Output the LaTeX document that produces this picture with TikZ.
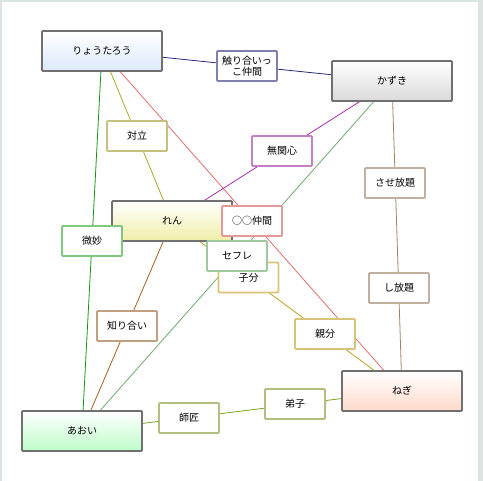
\documentclass[tikz,border=0pt]{standalone}
\usepackage{fontspec}
\setmainfont{Noto Sans CJK JP}
\usetikzlibrary{backgrounds}
\definecolor{frame}{HTML}{DCE4E2}
\definecolor{mainborder}{HTML}{707070}
% fills
\definecolor{fryo}{RGB}{221,233,252}
\definecolor{fkaz}{RGB}{218,218,218}
\definecolor{fren}{RGB}{238,238,168}
\definecolor{fneg}{RGB}{255,218,202}
\definecolor{faoi}{RGB}{190,252,200}
% label borders
\definecolor{bnavy}{RGB}{128,128,176}
\definecolor{bolive}{RGB}{196,192,128}
\definecolor{bpurple}{RGB}{196,128,196}
\definecolor{btan}{RGB}{192,176,160}
\definecolor{bgreen}{RGB}{128,200,128}
\definecolor{bgold}{RGB}{216,196,120}
\definecolor{bsage}{RGB}{160,200,160}
\definecolor{bpink}{RGB}{228,152,152}
\definecolor{bbrown}{RGB}{192,160,128}
\definecolor{bygreen}{RGB}{176,192,128}
% connectors
\definecolor{cnavy}{RGB}{40,40,120}
\definecolor{colive}{RGB}{170,170,40}
\definecolor{cgreen}{RGB}{20,150,20}
\definecolor{cpink}{RGB}{230,110,110}
\definecolor{cpurple}{RGB}{170,40,170}
\definecolor{csage}{RGB}{110,170,110}
\definecolor{ctan}{RGB}{160,130,100}
\definecolor{cbrown}{RGB}{170,100,40}
\definecolor{cgold}{RGB}{190,160,40}
\definecolor{cygreen}{RGB}{120,160,20}
\tikzset{
  x=1pt, y=-1pt,
  mainbox/.style={draw=mainborder, line width=1.8pt, rounded corners=1pt,
    minimum width=120pt, minimum height=40pt, inner sep=0pt,
    top color=white, font=\fontsize{10}{11}\selectfont},
  lbl/.style={draw=#1, line width=1.8pt, rounded corners=1pt, fill=white,
    minimum width=60pt, minimum height=30pt, inner sep=0pt, align=center,
    font=\fontsize{10}{10.5}\selectfont},
  conn/.style={draw=#1, line width=0.8pt},
}
\begin{document}
\begin{tikzpicture}
\useasboundingbox (0,0) rectangle (483,481);
% main nodes
\node[mainbox, bottom color=fryo] (ryo) at (102,51) {りょうたろう};
\node[mainbox, bottom color=fkaz] (kaz) at (392,81) {かずき};
\node[mainbox, bottom color=fren] (ren) at (172,221) {れん};
\node[mainbox, bottom color=fneg] (neg) at (402,391) {ねぎ};
\node[mainbox, bottom color=faoi] (aoi) at (82,431) {あおい};
% labels
\node[lbl=bnavy] (l1) at (247,66) {触り合いっ\\こ仲間};
\node[lbl=bolive] (l2) at (137,136) {対立};
\node[lbl=bpurple] (l3) at (282,151) {無関心};
\node[lbl=btan] (l4) at (395,183) {させ放題};
\node[lbl=bgreen] (l6) at (92,241) {微妙};
\node[lbl=bgold] (l8) at (248.5,277.5) {子分};
\node[lbl=bsage] (l7) at (237,256) {セフレ};
\node[lbl=bpink] (l5) at (252,221) {○○仲間};
\node[lbl=btan] (l9) at (399,288) {し放題};
\node[lbl=bbrown] (l10) at (127,326) {知り合い};
\node[lbl=bgold] (l11) at (325,334) {親分};
\node[lbl=bygreen] (l12) at (189,418) {師匠};
\node[lbl=bygreen] (l13) at (295,404) {弟子};
\begin{pgfonlayer}{background}
\fill[frame] (0,0) rectangle (483,481);
\fill[white] (2,2) rectangle (478,481);
\path[conn=cnavy] (ryo.center) -- (kaz.center);
\path[conn=colive] (ryo.center) -- (ren.center);
\path[conn=cgreen] (ryo.center) -- (aoi.center);
\path[conn=cpink] (ryo.center) -- (neg.center);
\path[conn=cpurple] (kaz.center) -- (ren.center);
\path[conn=csage] (kaz.center) -- (aoi.center);
\path[conn=ctan] (kaz.center) -- (neg.center);
\path[conn=cbrown] (ren.center) -- (aoi.center);
\path[conn=cgold] (ren.center) -- (neg.center);
\path[conn=cygreen] (aoi.center) -- (neg.center);
\end{pgfonlayer}
\end{tikzpicture}
\end{document}
